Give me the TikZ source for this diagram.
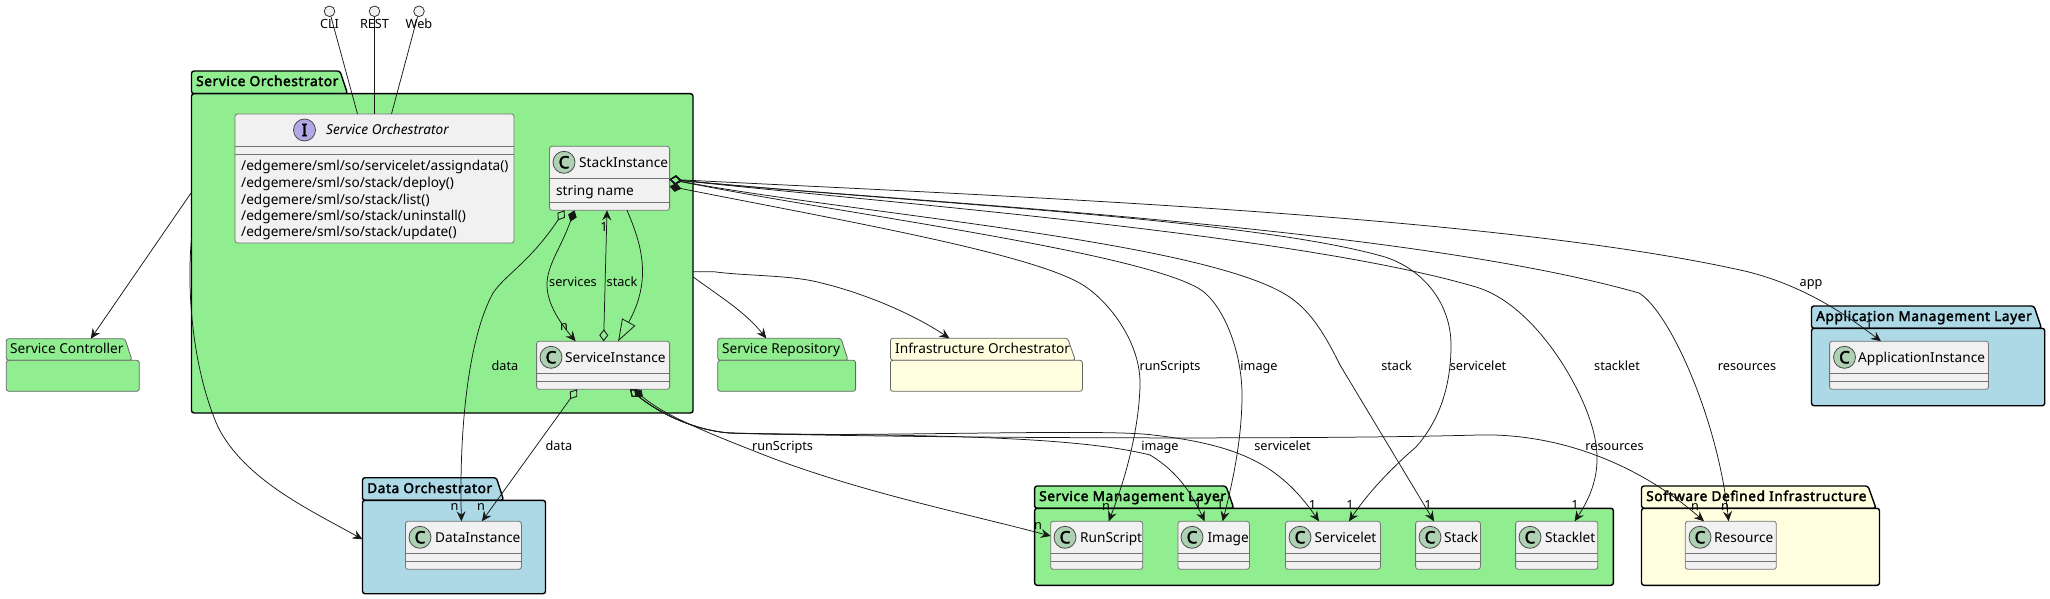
\documentclass[tikz,border=0pt]{standalone}
\usepackage{fontspec}
\setmainfont{Noto Sans}[BoldFont={Noto Sans},BoldFeatures={FakeBold=2.5,LetterSpace=4.5}]
\usetikzlibrary{arrows.meta,calc}
\definecolor{pkgGreen}{HTML}{90EE90}
\definecolor{pkgBlue}{HTML}{ADD8E6}
\definecolor{pkgYellow}{HTML}{FFFFE0}
\definecolor{clsFill}{HTML}{F1F1F1}
\definecolor{lineInk}{HTML}{181818}
\definecolor{cGlyph}{HTML}{ADD1B2}
\definecolor{iGlyph}{HTML}{B4A7E5}
\newcommand{\fclass}{\fontsize{13.65}{16}\selectfont}
\newcommand{\flabel}{\fontsize{12.7}{15}\selectfont}
\tikzset{
  boldpkg/.style={draw=black,line width=1.4pt,rounded corners=2.5pt},
  thinpkg/.style={draw=black!60,line width=0.8pt,rounded corners=2.5pt},
  boxcls/.style={draw=black!55,line width=0.8pt,fill=clsFill,rounded corners=2.5pt,inner sep=0pt,outer sep=0pt},
  divider/.style={draw=black!55,line width=0.8pt},
  cname/.style={anchor=base west,inner sep=0pt,font=\fclass,text=black},
  lbl/.style={anchor=base,inner sep=0pt,font=\flabel,text=black},
  conn/.style={draw=lineInk,line width=0.75pt},
  head/.style={-{Stealth[length=10pt,width=9pt,inset=3.5pt]}},
  odia/.style={{Diamond[open,length=12pt,width=9pt,line width=0.9pt]}-{Stealth[length=10pt,width=9pt,inset=3.5pt]}},
  fdia/.style={{Diamond[length=12pt,width=9pt]}-{Stealth[length=10pt,width=9pt,inset=3.5pt]}},
  iface/.style={circle,draw=black!80,line width=0.8pt,fill=clsFill,minimum size=10.6pt,inner sep=0pt,outer sep=0pt},
  glyph/.style={circle,draw=black!70,line width=0.8pt,minimum size=22pt,inner sep=0pt,font=\bfseries\fontsize{17}{17}\selectfont}
}
\newcommand{\pkgbox}[8]{%
  \pgfmathsetmacro\pw{#7-#2}\pgfmathsetmacro\ph{#8-#6}%
  \pgfmathsetmacro\pcx{(#2+#7)/2}\pgfmathsetmacro\pcy{(#6+#8)/2}%
  \path[pkgstyle] (#2,#6) -- (#2,#3) -- (#4,#3) -- (#5,#6) -- cycle;
  \node[pkgstyle,rectangle,inner sep=0pt,outer sep=0pt,minimum width=\pw pt,minimum height=\ph pt] (#1) at (\pcx,\pcy) {};
}
\newcommand{\clsbox}[8]{%
  \pgfmathsetmacro\cw{#3-#2}\pgfmathsetmacro\ch{#5-#4}%
  \pgfmathsetmacro\ccx{(#2+#3)/2}\pgfmathsetmacro\ccy{(#4+#5)/2}%
  \pgfmathsetmacro\gy{#4+16}\pgfmathsetmacro\by{#4+21}%
  \node[boxcls,minimum width=\cw pt,minimum height=\ch pt] (#1) at (\ccx,\ccy) {};
  \node[glyph,fill=cGlyph] (#1-glyph) at (#6,\gy) {C};
  \node[cname] (#1-name) at (#7,\by) {#8};
  \draw[divider] ([yshift=-32pt]#1.north west) -- ([yshift=-32pt]#1.north east);
}
\newcommand{\botdiv}[2]{\draw[divider] ([yshift=-#2pt]#1.north west) -- ([yshift=-#2pt]#1.north east);}
\newcommand{\lab}[4]{\pgfmathsetmacro\ly{#3+4.5}\node[lbl] (#1) at (#2,\ly) {#4};}
\begin{document}
\begin{tikzpicture}[x=1pt,y=-1pt]
\useasboundingbox (0,0) rectangle (2050,599);
% packages
\tikzset{pkgstyle/.style={boldpkg,fill=pkgGreen}}
\pkgbox{so}{191.5}{71}{340}{347.5}{93.7}{693}{413}
\tikzset{pkgstyle/.style={thinpkg,fill=pkgGreen}}
\pkgbox{sc}{6.25}{338.7}{125}{132}{360.3}{139.3}{391.3}
\pkgbox{sr}{717.7}{338.3}{841}{848}{360.3}{855.6}{391.3}
\tikzset{pkgstyle/.style={thinpkg,fill=pkgYellow}}
\pkgbox{io}{890.4}{338.3}{1067.7}{1075.3}{360.3}{1082.4}{391.3}
\tikzset{pkgstyle/.style={boldpkg,fill=pkgBlue}}
\pkgbox{do}{362.5}{477.7}{496.4}{503.6}{500.3}{545.5}{593.7}
\pkgbox{aml}{1811.5}{306}{2034}{2041.5}{328.3}{2044.7}{405.7}
\tikzset{pkgstyle/.style={boldpkg,fill=pkgGreen}}
\pkgbox{sml}{1034.6}{486}{1226}{1233.8}{508.3}{1613.4}{585.3}
\tikzset{pkgstyle/.style={boldpkg,fill=pkgYellow}}
\pkgbox{sdi}{1641.5}{486}{1868}{1876}{508.3}{1879.5}{585.3}
% package titles
\node[cname,font=\fclass\bfseries] (so-title) at (196,86) {Service Orchestrator};
\node[cname] (sc-title) at (10,353) {Service Controller};
\node[cname] (sr-title) at (722,353) {Service Repository};
\node[cname] (io-title) at (895,353) {Infrastructure Orchestrator};
\node[cname,font=\fclass\bfseries] (do-title) at (367,493) {Data Orchestrator};
\node[cname,font=\fclass\bfseries] (aml-title) at (1816,321) {Application Management Layer};
\node[cname,font=\fclass\bfseries] (sml-title) at (1039,501) {Service Management Layer};
\node[cname,font=\fclass\bfseries] (sdi-title) at (1646,501) {Software Defined Infrastructure};
% interface class
\node[boxcls,minimum width=279pt,minimum height=129pt] (soapi) at (374.5,178.5) {};
\draw[divider] ([yshift=-32pt]soapi.north west) -- ([yshift=-32pt]soapi.north east);
\botdiv{soapi}{40}
\node[glyph,fill=iGlyph] (soapi-glyph) at (304.5,130) {I};
\node[cname,font=\fclass\itshape] (soapi-name) at (326,135) {Service Orchestrator};
\node[cname] (m1) at (241,171) {/edgemere/sml/so/servicelet/assigndata()};
\node[cname] (m2) at (241,187) {/edgemere/sml/so/stack/deploy()};
\node[cname] (m3) at (241,204) {/edgemere/sml/so/stack/list()};
\node[cname] (m4) at (241,220) {/edgemere/sml/so/stack/uninstall()};
\node[cname] (m5) at (241,236) {/edgemere/sml/so/stack/update()};
% classes
\clsbox{stk}{549.5}{669.6}{146.3}{210.3}{564}{579}{StackInstance}
\botdiv{stk}{56}
\node[cname] (stk-attr) at (556,195) {string name};
\clsbox{svc}{536.6}{669.6}{341.3}{389.3}{551}{565}{ServiceInstance}\botdiv{svc}{40}
\clsbox{dat}{405.4}{521.4}{521.3}{569.3}{420}{435}{DataInstance}\botdiv{dat}{40}
\clsbox{app}{1829.6}{1988.5}{341.3}{389.3}{1844.5}{1858}{ApplicationInstance}\botdiv{app}{40}
\clsbox{run}{1050.7}{1142.7}{521.3}{569.3}{1065}{1080}{RunScript}\botdiv{run}{40}
\clsbox{img}{1178}{1249.4}{521.3}{569.3}{1192}{1207.4}{Image}\botdiv{img}{40}
\clsbox{slt}{1285.5}{1380.4}{521.3}{569.3}{1300}{1314.5}{Servicelet}\botdiv{slt}{40}
\clsbox{stc}{1415.6}{1480.4}{521.3}{569.3}{1430}{1444}{Stack}\botdiv{stc}{40}
\clsbox{skl}{1515.6}{1597.8}{521.3}{569.3}{1530}{1545}{Stacklet}\botdiv{skl}{40}
\clsbox{res}{1685.3}{1776.3}{521.3}{569.3}{1700}{1714}{Resource}\botdiv{res}{40}
% interfaces
\node[iface] (cli) at (329.5,11.3) {};
\node[iface] (rest) at (374.5,11.3) {};
\node[iface] (web) at (419,11.3) {};
\draw[conn] (cli) -- ([xshift=-17pt]soapi.north);
\draw[conn] (rest) -- (soapi.north);
\draw[conn] (web) -- ([xshift=17pt]soapi.north);
\lab{cli-l}{329.5}{24}{CLI}\lab{rest-l}{374.5}{24}{REST}\lab{web-l}{419}{24}{Web}
% package relations
\draw[conn,head] ([yshift=61pt]so.west) -- ([xshift=18pt,yshift=21.6pt]sc.north);
\draw[conn,head] ([yshift=15pt]so.west) .. controls (186,300) and (195,375) .. (218,427) .. controls (245,480) and (310,510) .. ([yshift=7.7pt]do.west);
\draw[conn,head] ([yshift=-23.5pt]so.east) .. controls (722,298) and (745,312) .. ([xshift=-20.35pt,yshift=22pt]sr.north);
\draw[conn,head] ([yshift=-18.5pt]so.east) -- (713.7,271.7) .. controls (745,276) and (790,275) .. (818.6,282.3) .. controls (860,292) and (910,312) .. ([xshift=-37pt,yshift=22pt]io.north);
% inner relations
\draw[conn,odia] ([xshift=15pt]stk.south west) .. controls (530,262) and (505,275) .. (493,293) .. controls (470,335) and (459,420) .. ([xshift=56pt]dat.north west);
\draw[conn,fdia] ([xshift=25pt]stk.south west) .. controls (560,250) and (547,265) .. (547,285) .. controls (547,305) and (562,325) .. ([xshift=39pt]svc.north west);
\draw[conn,odia] ([xshift=67pt]svc.north west) -- ([xshift=57.5pt]stk.south west);
\draw[conn,-{Triangle[open,length=22pt,width=15pt,line width=0.8pt]}] ([xshift=77.5pt]stk.south west) .. controls (642,245) and (652,280) .. ([xshift=81.5pt]svc.north west);
\draw[conn,odia] ([xshift=-26pt]svc.south) -- ([xshift=76.5pt]dat.north west);
% stack instance outgoing
\draw[conn,fdia] ([yshift=-8pt]stk.east) .. controls (850,222) and (1040,255) .. (1086,287) .. controls (1112,305) and (1141,345) .. (1140,385) .. controls (1139,430) and (1125,480) .. ([xshift=58pt]run.north west);
\draw[conn,odia] ([yshift=-1pt]stk.east) .. controls (830,212) and (1130,250) .. (1198,288) .. controls (1222,301.4) and (1242,350) .. (1242,395) .. controls (1242,440) and (1232,485) .. ([xshift=44.6pt]img.north west);
\draw[conn,odia] ([yshift=-1pt]stk.east) .. controls (850,213) and (1190,240) .. (1283,293) .. controls (1310,308) and (1325,335) .. (1340,365) -- ([xshift=18.4pt]stc.north west);
\draw[conn,odia] ([yshift=-1pt]stk.east) .. controls (900,202) and (1250,218) .. (1385,257) .. controls (1425,270) and (1451,305) .. (1451,345) .. controls (1451,385) and (1440,420) .. (1416,447) .. controls (1395,465) and (1370,490) .. ([xshift=63.5pt]slt.north west);
\draw[conn,odia] ([yshift=-1pt]stk.east) .. controls (900,204) and (1300,235) .. (1476,287) .. controls (1530,303) and (1575,375) .. (1590,420) .. controls (1600,450) and (1602,480) .. ([xshift=59pt]skl.north west);
\draw[conn,odia] ([yshift=-1pt]stk.east) .. controls (900,202) and (1400,225) .. (1639,293) .. controls (1670,312) and (1718,420) .. ([xshift=43.3pt]res.north west);
\draw[conn,odia] ([yshift=-1pt]stk.east) .. controls (1000,196) and (1500,215) .. (1747.6,271.7) .. controls (1800,285) and (1840,310) .. ([xshift=51.4pt]app.north west);
% service instance outgoing
\draw[conn,fdia] ([xshift=97.4pt]svc.south west) .. controls (660,412) and (695,428) .. (751.6,450) .. controls (850,490) and (960,512) .. ([yshift=9.3pt]run.west);
\draw[conn,odia] ([xshift=93.4pt]svc.south west) .. controls (655,410) and (690,430) .. (730,433) .. controls (850,436) and (1060,432) .. (1150,455) .. controls (1175,470) and (1190,490) .. ([xshift=26.7pt]img.north west);
\draw[conn,odia] ([xshift=93.4pt]svc.south west) .. controls (655,410) and (690,430) .. (730,433) .. controls (850,438) and (1100,428) .. (1153,435) .. controls (1240,445) and (1280,465) .. ([xshift=33.5pt]slt.north west);
\draw[conn,odia] ([xshift=93.4pt]svc.south west) .. controls (655,410) and (690,430) .. (730,433) .. controls (900,438) and (1300,440) .. (1478.6,435) .. controls (1560,433) and (1640,465) .. ([xshift=18.7pt]res.north west);
% connector labels
\lab{l-data1}{505}{365.7}{data}
\lab{l-services}{573}{281.7}{services}
\lab{l-stack}{622}{281.7}{stack}
\lab{l-data2}{559}{445.7}{data}
\lab{l-run}{1170}{365.7}{runScripts}
\lab{l-img}{1259}{365.7}{image}
\lab{l-stk}{1396.6}{365.7}{stack}
\lab{l-slt}{1478}{365.7}{servicelet}
\lab{l-skl}{1617}{365.7}{stacklet}
\lab{l-res}{1747}{365.7}{resources}
\lab{l-app}{1811}{282}{app}
\lab{l-run2}{782.5}{445.7}{runScripts}
\lab{l-img2}{1160}{445.7}{image}
\lab{l-slt2}{1282.5}{445.7}{servicelet}
\lab{l-res2}{1614.5}{445.7}{resources}
\lab{c1}{454.5}{506}{n}\lab{c2}{481}{506}{n}
\lab{c3}{564}{326}{n}\lab{c4}{604}{226.7}{1}
\lab{c5}{1038}{525}{n}\lab{c6}{1106}{506}{n}
\lab{c7}{1198}{504}{1}\lab{c8}{1220}{504}{1}
\lab{c9}{1312.5}{505}{1}\lab{c10}{1350}{505}{1}
\lab{c11}{1428}{505}{1}\lab{c12}{1575}{505}{1}
\lab{c13}{1695}{506}{n}\lab{c14}{1725}{506}{n}
\lab{c15}{1869}{325}{1}
\end{tikzpicture}
\end{document}
